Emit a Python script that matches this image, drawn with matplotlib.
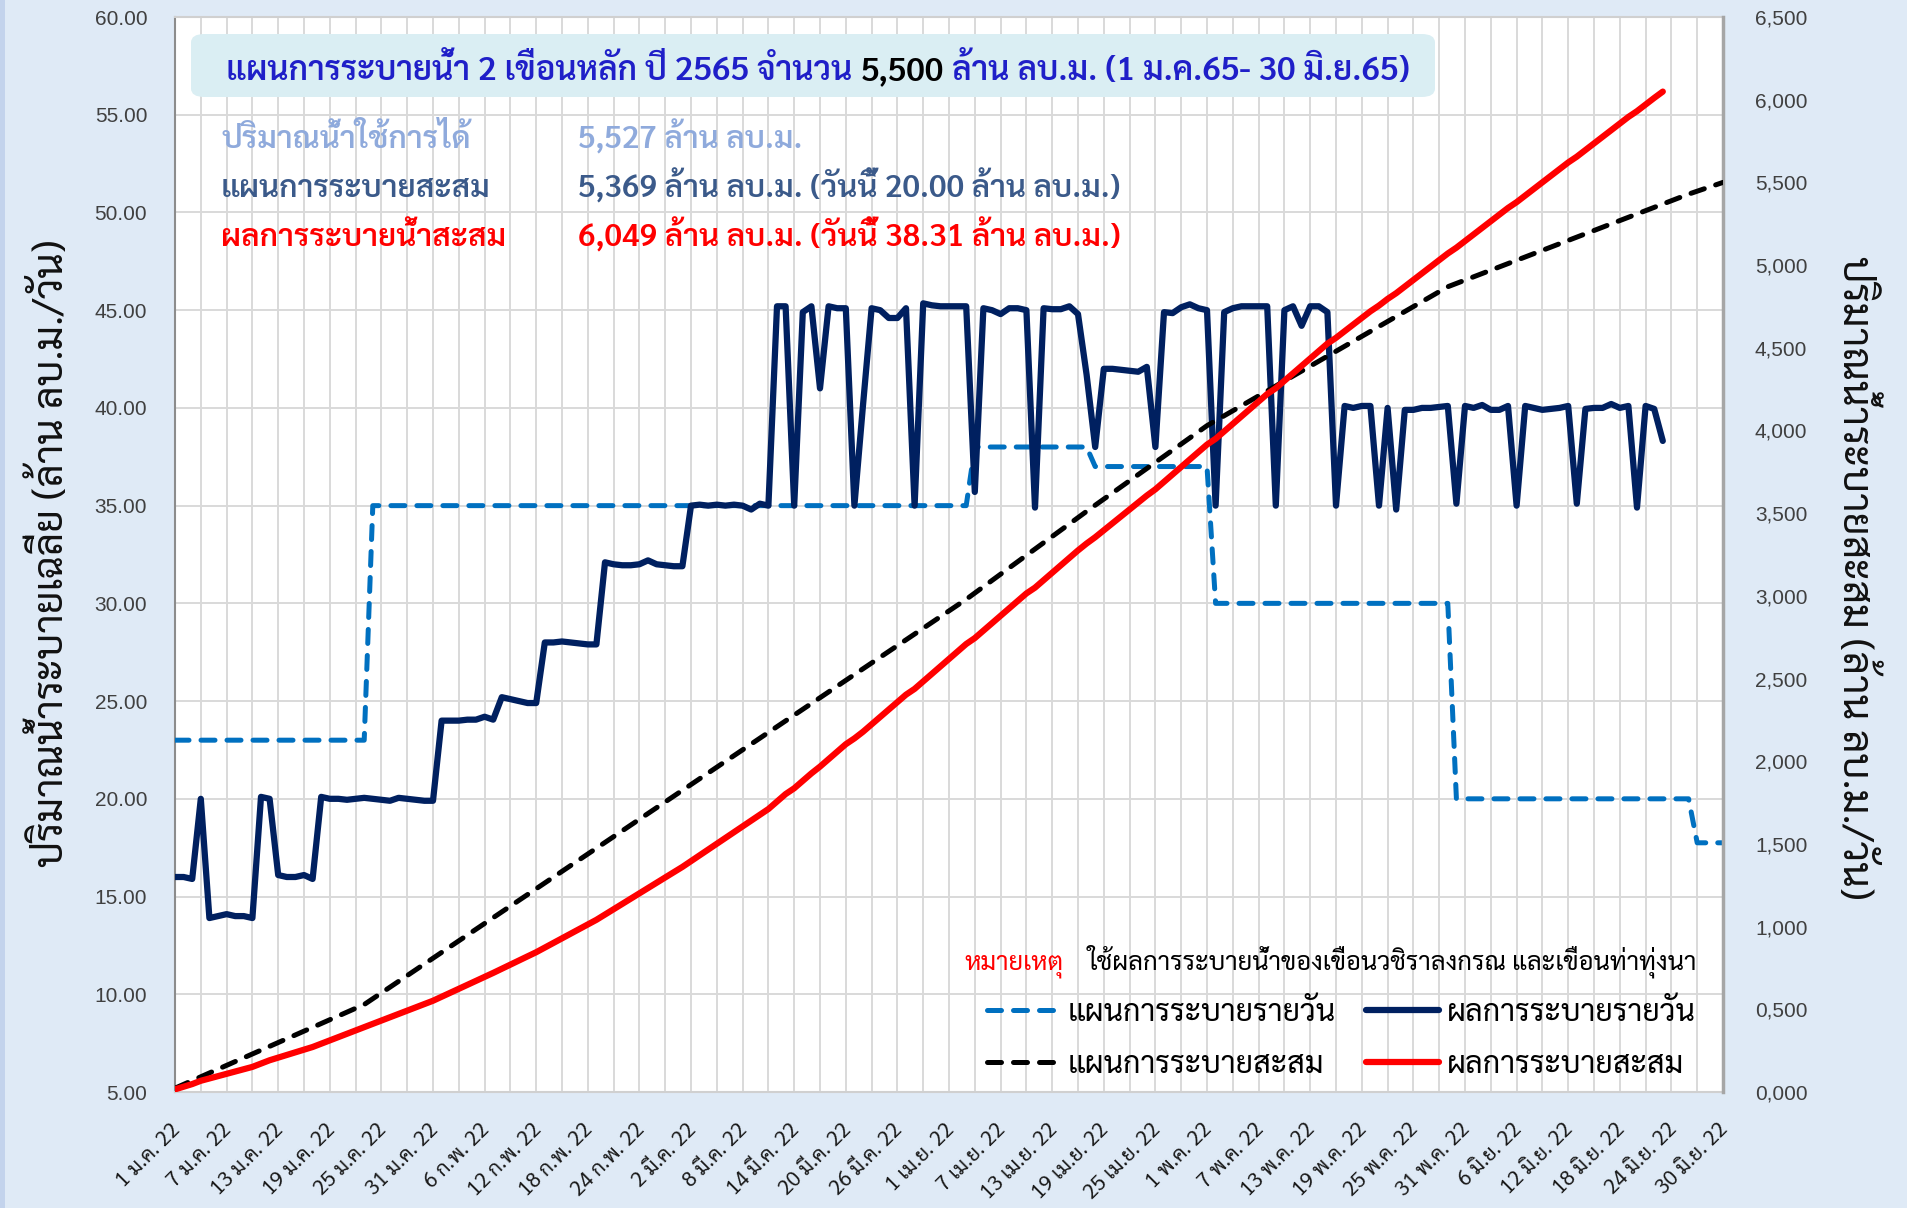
import numpy as np
import pandas as pd
import matplotlib
matplotlib.use("Agg")
import matplotlib.pyplot as plt
import matplotlib.transforms as mtransforms
from matplotlib.patches import FancyBboxPatch, Rectangle
from matplotlib.ticker import FuncFormatter, MultipleLocator

THAI = ["Sarabun", "DejaVu Sans"]
NUM = ["Liberation Sans", "DejaVu Sans"]
plt.rcParams["font.family"] = THAI

# ---------------------------------------------------------------- data
dates = pd.date_range("2022-01-01", "2022-06-30", freq="D")

# planned daily release (million m3/day), 1 Jan - 30 Jun
plan_daily = [
    23, 23, 23, 23, 23, 23, 23, 23, 23, 23,
    23, 23, 23, 23, 23, 23, 23, 23, 23, 23,
    23, 23, 23, 35, 35, 35, 35, 35, 35, 35,
    35, 35, 35, 35, 35, 35, 35, 35, 35, 35,
    35, 35, 35, 35, 35, 35, 35, 35, 35, 35,
    35, 35, 35, 35, 35, 35, 35, 35, 35, 35,
    35, 35, 35, 35, 35, 35, 35, 35, 35, 35,
    35, 35, 35, 35, 35, 35, 35, 35, 35, 35,
    35, 35, 35, 35, 35, 35, 35, 35, 35, 35,
    35, 35, 35, 38, 38, 38, 38, 38, 38, 38,
    38, 38, 38, 38, 38, 38, 38, 37, 37, 37,
    37, 37, 37, 37, 37, 37, 37, 37, 37, 37,
    37, 30, 30, 30, 30, 30, 30, 30, 30, 30,
    30, 30, 30, 30, 30, 30, 30, 30, 30, 30,
    30, 30, 30, 30, 30, 30, 30, 30, 30, 20,
    20, 20, 20, 20, 20, 20, 20, 20, 20, 20,
    20, 20, 20, 20, 20, 20, 20, 20, 20, 20,
    20, 20, 20, 20, 20, 20, 20, 17.75, 17.75, 17.75,
    17.75,
]

# actual daily release (million m3/day), 1 Jan - 23 Jun
actual_daily = [
    16.0, 16.0, 15.9, 20.0, 13.9, 14.0, 14.1, 14.0, 14.0, 13.9,
    20.1, 20.0, 16.1, 16.0, 16.0, 16.1, 15.9, 20.1, 20.0, 20.0,
    19.95, 20.0, 20.05, 20.0, 19.95, 19.9, 20.05, 20.0, 19.95, 19.9,
    19.9, 24.0, 24.0, 24.0, 24.05, 24.05, 24.2, 24.05, 25.2, 25.1,
    25.0, 24.9, 24.9, 28.0, 28.0, 28.05, 28.0, 27.95, 27.9, 27.9,
    32.1, 32.0, 31.95, 31.95, 32.0, 32.2, 32.0, 31.95, 31.9, 31.9,
    35.0, 35.05, 35.0, 35.05, 35.0, 35.05, 35.0, 34.8, 35.1, 35.0,
    45.2, 45.2, 35.0, 44.9, 45.2, 41.0, 45.2, 45.1, 45.1, 35.0,
    40.14, 45.1, 45.0, 44.6, 44.6, 45.1, 35.0, 45.35, 45.25, 45.2,
    45.2, 45.2, 45.2, 35.7, 45.1, 45.0, 44.8, 45.1, 45.1, 45.0,
    34.9, 45.1, 45.05, 45.05, 45.2, 44.8, 41.7, 38.0, 42.0, 42.0,
    41.95, 41.9, 41.85, 42.1, 38.0, 44.9, 44.85, 45.15, 45.3, 45.1,
    45.0, 35.0, 44.9, 45.1, 45.2, 45.2, 45.2, 45.2, 35.0, 45.0,
    45.2, 44.2, 45.2, 45.2, 44.9, 35.0, 40.1, 40.0, 40.1, 40.1,
    35.0, 40.0, 34.8, 39.9, 39.9, 40.0, 40.0, 40.05, 40.1, 35.1,
    40.1, 40.0, 40.15, 39.9, 39.9, 40.1, 35.0, 40.1, 40.0, 39.9,
    39.95, 40.0, 40.1, 35.1, 39.95, 40.0, 40.0, 40.2, 40.0, 40.1,
    34.9, 40.1, 39.95, 38.31,
]

x_tick_labels = [
    "1 ม.ค. 22", "7 ม.ค. 22", "13 ม.ค. 22", "19 ม.ค. 22", "25 ม.ค. 22",
    "31 ม.ค. 22", "6 ก.พ. 22", "12 ก.พ. 22", "18 ก.พ. 22", "24 ก.พ. 22",
    "2 มี.ค. 22", "8 มี.ค. 22", "14 มี.ค. 22", "20 มี.ค. 22", "26 มี.ค. 22",
    "1 เม.ย. 22", "7 เม.ย. 22", "13 เม.ย. 22", "19 เม.ย. 22", "25 เม.ย. 22",
    "1 พ.ค. 22", "7 พ.ค. 22", "13 พ.ค. 22", "19 พ.ค. 22", "25 พ.ค. 22",
    "31 พ.ค. 22", "6 มิ.ย. 22", "12 มิ.ย. 22", "18 มิ.ย. 22", "24 มิ.ย. 22",
    "30 มิ.ย. 22",
]

series_labels = ["แผนการระบายรายวัน", "แผนการระบายสะสม",
                 "ผลการระบายรายวัน", "ผลการระบายสะสม"]

title_parts = ["แผนการระบายน้ำ 2 เขื่อนหลัก ปี 2565 จำนวน", "5,500",
               "ล้าน ลบ.ม. (1 ม.ค.65- 30 มิ.ย.65)"]
info_names = ["ปริมาณน้ำใช้การได้", "แผนการระบายสะสม", "ผลการระบายน้ำสะสม"]
info_values = ["5,527 ล้าน ลบ.ม.",
               "5,369 ล้าน ลบ.ม. (วันนี้ 20.00 ล้าน ลบ.ม.)",
               "6,049 ล้าน ลบ.ม. (วันนี้ 38.31 ล้าน ลบ.ม.)"]
note_head = "หมายเหตุ"
note_text = "ใช้ผลการระบายน้ำของเขื่อนวชิราลงกรณ และเขื่อนท่าทุ่งนา"
ylabel_left = "ปริมาณน้ำระบายเฉลี่ย (ล้าน ลบ.ม./วัน)"
ylabel_right = "ปริมาณน้ำระบายสะสม (ล้าน ลบ.ม./วัน)"

# ---------------------------------------------------------------- colours
C_PLAN_DAY = "#0070C0"
C_ACT_DAY = "#002060"
C_PLAN_CUM = "#000000"
C_ACT_CUM = "#FF0000"
C_BG = "#DFEAF6"
C_GRID = "#D9D9D9"

# ---------------------------------------------------------------- figure
W, H = 1907, 1208
fig = plt.figure(figsize=(W / 100, H / 100), dpi=100, facecolor=C_BG)
renderer = fig.canvas.get_renderer()
fig.add_artist(Rectangle((0, 0), 5 / W, 1, transform=fig.transFigure,
                         facecolor="#C3D3EC", edgecolor="none", zorder=0))

L, R, T, B = 175, 1723, 17, 1092
ax = fig.add_axes([L / W, 1 - B / H, (R - L) / W, (B - T) / H])
ax.set_facecolor("white")
ax2 = ax.twinx()
ax2.patch.set_visible(False)

DASH_LW = 3.6
SOLID_LW = 4.5
dash = (0, (2.8, 2.4))
n_act = len(actual_daily)
ax.plot(dates, plan_daily, color=C_PLAN_DAY, lw=DASH_LW, linestyle=dash,
        dash_capstyle="round", dash_joinstyle="round", zorder=3)
ax.plot(dates[:n_act], actual_daily, color=C_ACT_DAY, lw=SOLID_LW,
        solid_joinstyle="round", solid_capstyle="round", zorder=4)
ax2.plot(dates, np.cumsum(plan_daily), color=C_PLAN_CUM, lw=DASH_LW,
         linestyle=dash, dash_capstyle="round", dash_joinstyle="round", zorder=3)
ax2.plot(dates[:n_act], np.cumsum(actual_daily), color=C_ACT_CUM, lw=SOLID_LW,
         solid_joinstyle="round", solid_capstyle="round", zorder=4)

ax.set_xlim(dates[0], dates[-1])
ax.set_ylim(5, 60)
ax2.set_ylim(0, 6500)
ax.yaxis.set_major_locator(MultipleLocator(5))
ax2.yaxis.set_major_locator(MultipleLocator(500))
ax.yaxis.set_major_formatter(FuncFormatter(lambda v, p: f"{v:.2f}"))
ax2.yaxis.set_major_formatter(
    FuncFormatter(lambda v, p: f"{int(round(v)) // 1000},{int(round(v)) % 1000:03d}"))

ax.set_xticks(dates[::6])
ax.set_xticks(dates[3::6], minor=True)
ax.set_xticklabels(x_tick_labels, rotation=45, ha="right", va="center",
                   rotation_mode="anchor", fontsize=15, color="#1A1A1A")
ax.tick_params(axis="x", which="both", length=0, pad=25)
ax.tick_params(axis="y", length=0, pad=20, labelsize=15,
               labelcolor="#404040", labelfontfamily=NUM)
ax2.tick_params(axis="y", length=0, pad=23, labelsize=15,
                labelcolor="#404040", labelfontfamily=NUM)
shift = mtransforms.ScaledTranslation(2 / 100, 0, fig.dpi_scale_trans)
for lbl in ax.get_xticklabels():
    lbl.set_transform(lbl.get_transform() + shift)

ax.set_axisbelow(True)
ax.grid(True, axis="x", which="both", color=C_GRID, lw=1.4)
ax.grid(True, axis="y", which="major", color=C_GRID, lw=1.4)
for s in ("top", "bottom"):
    ax.spines[s].set_color("#D0D0D0")
    ax.spines[s].set_linewidth(1.5)
ax.spines["left"].set_color("#8C8C8C")
ax.spines["left"].set_linewidth(1.5)
for s in ("top", "bottom", "left"):
    ax2.spines[s].set_visible(False)
ax2.spines["right"].set_color("#A6A6A6")
ax2.spines["right"].set_linewidth(2.5)


# ---------------------------------------------------------------- text helpers
def measure(s, size, **kw):
    t = fig.text(0, 0, s, fontsize=size, **kw)
    w = t.get_window_extent(renderer).width
    t.remove()
    return w


def fit(s, target, **kw):
    return 20 * target / measure(s, 20, **kw)


def put(x, y, s, size, color, **kw):
    return fig.text(x / W, 1 - y / H, s, fontsize=size, color=color,
                    ha="left", va="baseline", **kw)


def runs(x, y, parts, colors, size, **kw):
    space = measure("ก ก", size, **kw) - measure("กก", size, **kw)
    cur = x
    for s, c in zip(parts, colors):
        t = put(cur, y, s, size, c, **kw)
        cur += t.get_window_extent(renderer).width + space


# axis titles
fsl = fit(ylabel_left, 626)
ax.set_ylabel(ylabel_left, fontsize=fsl, rotation=90, ha="center", va="center",
              color="#111111")
ax.yaxis.set_label_coords((51 - L) / (R - L), (B - 553) / (B - T))
fsr = fit(ylabel_right, 642)
ax2.set_ylabel(ylabel_right, fontsize=fsr, rotation=270, ha="center",
               va="center", color="#111111")
ax2.yaxis.set_label_coords((1855 - L) / (R - L), (B - 578) / (B - T))

# title banner
fig.add_artist(FancyBboxPatch((191 / W, 1 - 97 / H), (1435 - 191) / W, 63 / H,
                              boxstyle="round,pad=0,rounding_size=0.007",
                              transform=fig.transFigure, facecolor="#DAEEF3",
                              edgecolor="none", zorder=1))
full_title = " ".join(title_parts)
tfs = fit(full_title, 1186, weight=600)
tw = measure(full_title, tfs, weight=600)
runs(818 - tw / 2, 80, title_parts, ["#1F1FC8", "#000000", "#1F1FC8"], tfs,
     weight=600)

# summary lines
ifs = fit(info_values[1], 542, weight=600)
info_colors = ["#8FAADC", "#3B5A8A", "#FF0000"]
for name, val, c, yb in zip(info_names, info_values, info_colors, (148, 197, 246)):
    put(221, yb, name, ifs, c, weight=600)
    put(578, yb, val, ifs, c, weight=600)

# footnote
nfs = fit(note_text, 610)
put(964, 969, note_head, nfs, "#FF0000")
put(1088, 969, note_text, nfs, "#000000")

# legend
lfs = fit(series_labels[0], 268)
lpx = lfs * 100 / 72
probe = fig.text(0, 0, series_labels[0], fontsize=lfs)
row_h = probe.get_window_extent(renderer).height
probe.remove()
handles = ax.get_lines() + ax2.get_lines()
order = [handles[0], handles[2], handles[1], handles[3]]
fig.legend(order, series_labels, ncol=2, loc="center left",
           bbox_to_anchor=(987 / W, 1 - 1039 / H), frameon=False,
           fontsize=lfs, handlelength=73 / lpx, handletextpad=8 / lpx,
           columnspacing=30 / lpx, labelspacing=max(0.0, (52 - row_h) / lpx),
           borderpad=0, borderaxespad=0)

fig.savefig("out.png", dpi=100, facecolor=C_BG)
